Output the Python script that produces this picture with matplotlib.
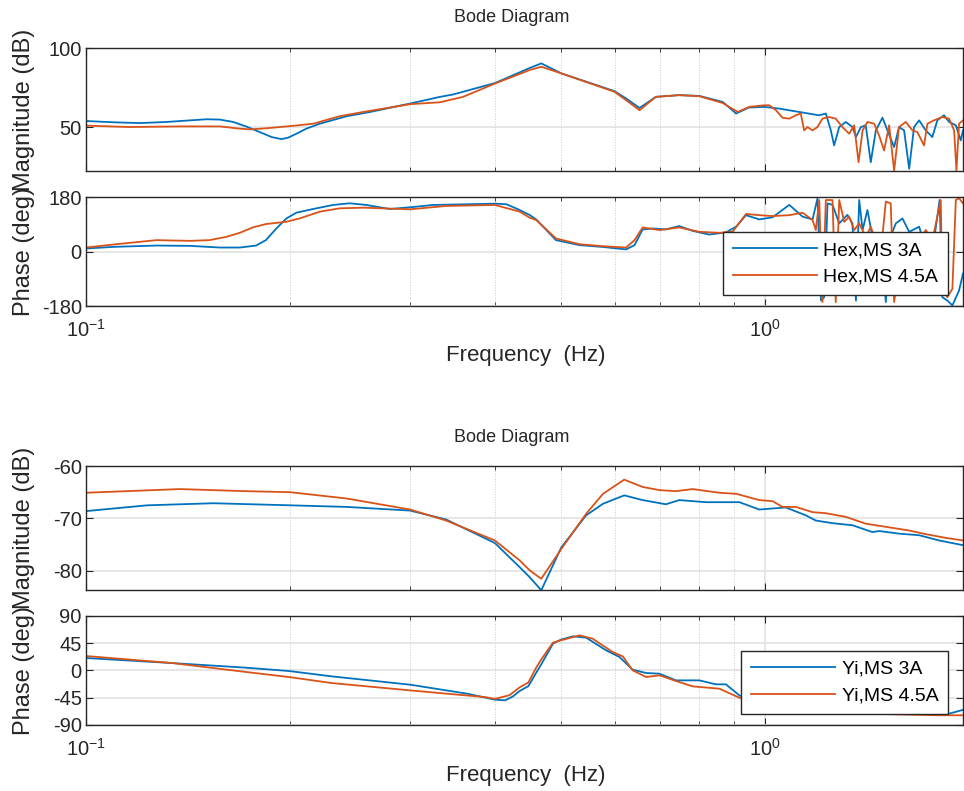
import math
import matplotlib
matplotlib.use('Agg')
import matplotlib.pyplot as plt
from matplotlib.ticker import FixedLocator, LogLocator, FuncFormatter, NullFormatter

plt.rcParams['font.family'] = ['Liberation Sans', 'DejaVu Sans']
plt.rcParams['mathtext.default'] = 'regular'
plt.rcParams['axes.unicode_minus'] = False

# ---- Hex 电机，幅值 (dB) ----
hex3_mag_f = [0.100, 0.1097, 0.120, 0.1314, 0.1422, 0.1505, 0.1574, 0.1647, 0.172, 0.1803, 0.1876, 0.194,
              0.1984, 0.2041, 0.2111, 0.2209, 0.242, 0.262, 0.300, 0.332, 0.347, 0.400, 0.450, 0.468,
              0.501, 0.600, 0.624, 0.653, 0.690, 0.747, 0.800, 0.866, 0.906, 0.946, 0.997, 1.049, 1.122,
              1.200, 1.228, 1.249, 1.263, 1.285, 1.314, 1.344, 1.360, 1.383, 1.406, 1.430, 1.455, 1.488,
              1.513, 1.548, 1.574, 1.601, 1.629, 1.656, 1.685, 1.723, 1.762, 1.792, 1.833, 1.865, 1.908,
              1.940, 1.955]
hex3_mag = [54.0, 53.2, 52.7, 53.4, 54.4, 55.1, 54.9, 53.4, 50.6, 47.0, 43.9, 42.6,
            43.5, 46.0, 49.2, 52.3, 57.0, 59.7, 65.0, 69.2, 70.7, 77.9, 87.4, 90.3,
            84.0, 72.8, 68.2, 62.2, 69.2, 70.3, 69.8, 66.0, 58.7, 62.5, 62.9, 61.8, 59.7,
            57.6, 58.7, 48.1, 38.6, 50.2, 53.4, 50.2, 43.9, 50.2, 51.3, 28.0, 48.1, 56.1,
            48.1, 37.6, 50.2, 48.1, 23.9, 50.2, 54.4, 48.1, 43.9, 54.4, 57.6, 53.4, 51.3,
            41.8, 48.1]

hex45_mag_f = [0.100, 0.116, 0.1375, 0.1574, 0.1666, 0.1743, 0.184, 0.200, 0.216, 0.2363, 0.256, 0.300,
               0.332, 0.3589, 0.400, 0.450, 0.468, 0.501, 0.600, 0.624, 0.653, 0.690, 0.747, 0.800, 0.865,
               0.911, 0.947, 0.997, 1.014, 1.037, 1.060, 1.085, 1.109, 1.128, 1.141, 1.154, 1.174, 1.194,
               1.214, 1.242, 1.270, 1.299, 1.329, 1.352, 1.372, 1.391, 1.414, 1.447, 1.471, 1.496, 1.522,
               1.548, 1.574, 1.610, 1.647, 1.675, 1.713, 1.733, 1.772, 1.823, 1.865, 1.897, 1.912, 1.929,
               1.955]
hex45_mag = [51.1, 50.2, 50.6, 50.6, 49.4, 48.7, 49.4, 50.8, 52.3, 57.0, 59.7, 64.6,
             65.8, 69.2, 77.6, 86.1, 88.2, 84.0, 72.4, 67.1, 60.8, 69.2, 70.3, 69.6, 65.4,
             59.7, 62.9, 63.9, 63.9, 60.8, 56.1, 55.5, 57.6, 58.7, 48.1, 50.2, 48.1, 50.2,
             55.5, 56.5, 55.5, 50.2, 46.0, 51.3, 28.0, 48.1, 53.4, 52.3, 44.9, 35.4, 51.3,
             22.8, 50.2, 53.4, 48.1, 47.0, 38.6, 52.3, 54.4, 56.5, 55.5, 48.1, 22.8, 52.3,
             54.4]

# ---- Hex 电机，相位 (deg) ----
hex3_ph_f = [0.100, 0.1097, 0.127, 0.1422, 0.1574, 0.1685, 0.178, 0.184, 0.1907, 0.1973, 0.2041, 0.216,
             0.2311, 0.2444, 0.2587, 0.280, 0.300, 0.3242, 0.400, 0.416, 0.435, 0.450, 0.460, 0.492,
             0.533, 0.577, 0.624, 0.642, 0.660, 0.683, 0.714, 0.747, 0.782, 0.827, 0.875, 0.906, 0.937,
             0.980, 1.025, 1.085, 1.135, 1.174, 1.194, 1.208, 1.221, 1.235, 1.256, 1.285, 1.321, 1.344,
             1.360, 1.375, 1.391, 1.414, 1.438, 1.480, 1.505, 1.522, 1.557, 1.592, 1.629, 1.685, 1.713,
             1.742, 1.772, 1.806, 1.823, 1.854, 1.886, 1.929, 1.955]
hex3_ph = [9.8, 15.3, 19.7, 18.6, 13.1, 13.1, 19.7, 37.5, 76.2, 109.4, 128.2, 140.4,
           153.7, 159.2, 153.7, 140.4, 146, 153.7, 158, 156, 137, 120.5, 106, 37.5,
           21, 15, 7, 21, 73, 76, 73, 84, 68, 56, 63, 82, 120,
           106, 113, 154, 115, 106, 176, -162, -151, 159, 154, 93, 121, 93,
           -162, 170, 71, 137, 48, 37, -167, 37, 93, 109, 65, 82, 26,
           -73, 37, 170, -151, -162, -178, -129, -73]

hex45_ph_f = [0.100, 0.1097, 0.127, 0.1422, 0.152, 0.161, 0.1685, 0.176, 0.184, 0.1973, 0.2064, 0.2209,
              0.2363, 0.256, 0.300, 0.339, 0.400, 0.435, 0.450, 0.460, 0.492, 0.533, 0.577, 0.624, 0.642,
              0.660, 0.699, 0.747, 0.800, 0.856, 0.895, 0.937, 0.980, 1.025, 1.085, 1.135, 1.174, 1.187,
              1.201, 1.214, 1.228, 1.256, 1.270, 1.285, 1.307, 1.329, 1.352, 1.375, 1.406, 1.430, 1.455,
              1.471, 1.488, 1.505, 1.530, 1.548, 1.592, 1.647, 1.685, 1.723, 1.762, 1.792, 1.813, 1.823,
              1.854, 1.886, 1.908, 1.929, 1.955]
hex45_ph = [13.1, 23.1, 37.5, 35.2, 37.5, 48.5, 61.8, 79.5, 90.6, 98.3, 109.4, 131.5,
            142.6, 144.8, 139.3, 150.4, 153.7, 131.5, 111.6, 104, 43, 24, 17.5, 13, 37.5,
            79.5, 70.7, 79.5, 65, 61.8, 65, 124, 120, 117, 120, 128, 104, 71,
            170, -167, 170, 170, -167, 170, 98, 115, 71, 93, 48, 81, 37,
            59, 54, 165, 159, -167, 37, 32, 37, 71, 37, 115, 170, -129,
            -151, -123, 170, 176, 159]

# ---- Yi 电机，幅值 (dB) ----
yi3_mag_f = [0.100, 0.123, 0.154, 0.200, 0.242, 0.300, 0.339, 0.400, 0.435, 0.450, 0.468, 0.501, 0.545,
             0.577, 0.620, 0.660, 0.714, 0.747, 0.818, 0.916, 0.980, 1.072, 1.147, 1.187, 1.256, 1.344,
             1.438, 1.471, 1.574, 1.685, 1.803, 1.955]
yi3_mag = [-68.6, -67.5, -67.1, -67.5, -67.8, -68.5, -70.2, -74.7, -79.3, -81.2, -83.7, -75.5, -69.4,
           -67.2, -65.6, -66.5, -67.3, -66.5, -66.9, -66.9, -68.3, -67.9, -69.4, -70.4, -70.9, -71.3,
           -72.6, -72.4, -72.9, -73.2, -74.2, -75.1]

yi45_mag_f = [0.100, 0.1375, 0.172, 0.200, 0.242, 0.300, 0.339, 0.400, 0.435, 0.450, 0.468, 0.501, 0.545,
              0.577, 0.620, 0.660, 0.699, 0.739, 0.782, 0.856, 0.906, 0.980, 1.025, 1.060, 1.109, 1.174,
              1.228, 1.314, 1.406, 1.505, 1.629, 1.723, 1.844, 1.955]
yi45_mag = [-65.1, -64.4, -64.8, -65.0, -66.2, -68.3, -70.4, -74.2, -78.0, -79.9, -81.5, -75.8, -69.1,
            -65.3, -62.6, -64.0, -64.6, -64.8, -64.4, -65.1, -65.3, -66.5, -66.7, -67.8, -67.8, -68.8,
            -69.0, -69.7, -71.0, -71.6, -72.3, -73.0, -73.7, -74.2]

# ---- Yi 电机，相位 (deg) ----
yi3_ph_f = [0.100, 0.134, 0.172, 0.199, 0.230, 0.300, 0.364, 0.400, 0.414, 0.425, 0.435, 0.448, 0.460,
            0.467, 0.487, 0.500, 0.521, 0.545, 0.583, 0.610, 0.638, 0.668, 0.699, 0.739, 0.800, 0.846,
            0.875, 0.916, 1.000, 1.200, 1.500, 1.800, 1.865, 1.955]
yi3_ph = [20.3, 12, 4.4, -1.1, -9.9, -23.6, -38.4, -48.3, -49.4, -43, -34, -26, -4,
          8.2, 44, 50.5, 56, 53.8, 33, 22, 1.1, -4.4, -5.5, -16.5, -16.5, -23,
          -23, -41.2, -55, -63, -68, -70, -71.4, -65]

yi45_ph_f = [0.100, 0.134, 0.172, 0.199, 0.230, 0.300, 0.349, 0.387, 0.400, 0.420, 0.435, 0.448, 0.460,
             0.467, 0.487, 0.500, 0.533, 0.557, 0.596, 0.617, 0.638, 0.668, 0.699, 0.739, 0.782, 0.856,
             0.916, 1.000, 1.200, 1.500, 1.800, 1.865, 1.955]
yi45_ph = [23.6, 12, -2.7, -11, -20.9, -33, -39.6, -44, -47, -41, -28, -20, 4.4,
           16.5, 45.6, 49.4, 57.7, 52.2, 30.2, 23, 0, -11, -8.2, -17.6, -26.4, -30.2,
           -45, -55, -65, -72, -74, -74, -74]

blue = '#0072BD'
red = '#D95319'
ink = '#262626'
W, H = 964, 791

fig = plt.figure(figsize=(W / 100, H / 100), dpi=100)


def make_ax(top_px, bot_px):
    left, right = 86, 963
    return fig.add_axes([left / W, 1 - bot_px / H, (right - left) / W, (bot_px - top_px) / H])


def style(ax, yticks, ylim, show_x):
    ax.set_xscale('log')
    ax.set_xlim(0.1, 1.955)
    ax.set_ylim(*ylim)
    ax.yaxis.set_major_locator(FixedLocator(yticks))
    ax.xaxis.set_major_locator(LogLocator(base=10, numticks=10))
    ax.xaxis.set_minor_locator(LogLocator(base=10, subs=range(2, 10), numticks=10))
    ax.xaxis.set_minor_formatter(NullFormatter())
    if show_x:
        ax.xaxis.set_major_formatter(FuncFormatter(lambda v, p: r'$10^{%d}$' % round(math.log10(v))))
    else:
        ax.xaxis.set_major_formatter(NullFormatter())
    ax.tick_params(which='both', direction='in', top=True, right=True, colors=ink,
                   labelsize=14.5, labelcolor=ink)
    ax.tick_params(which='major', length=5, width=0.8, pad=3)
    ax.tick_params(which='minor', length=3, width=0.6)
    ax.tick_params(axis='x', which='major', pad=9)
    ax.grid(True, which='major', color='#e2e2e2', lw=1.2)
    ax.grid(True, which='minor', axis='x', color='#c8c8c8', lw=0.7, ls=':')
    ax.set_axisbelow(True)
    for s in ax.spines.values():
        s.set_color(ink)
        s.set_linewidth(1.0)


panels = [
    (48, 171, hex3_mag_f, hex3_mag, hex45_mag_f, hex45_mag, [50, 100], (22.5, 100), False, 'Magnitude (dB)', None),
    (197, 306, hex3_ph_f, hex3_ph, hex45_ph_f, hex45_ph, [-180, 0, 180], (-180, 180), True, 'Phase (deg)',
     ['Hex,MS 3A', 'Hex,MS 4.5A']),
    (466, 589.5, yi3_mag_f, yi3_mag, yi45_mag_f, yi45_mag, [-80, -70, -60], (-83.55, -60), False, 'Magnitude (dB)', None),
    (615.7, 725, yi3_ph_f, yi3_ph, yi45_ph_f, yi45_ph, [-90, -45, 0, 45, 90], (-90, 90), True, 'Phase (deg)',
     ['Yi,MS 3A', 'Yi,MS 4.5A']),
]

for top, bot, f1, v1, f2, v2, yt, yl, showx, ylab, leg in panels:
    ax = make_ax(top, bot)
    ax.plot(f1, v1, color=blue, lw=1.3, label=leg[0] if leg else None)
    ax.plot(f2, v2, color=red, lw=1.3, label=leg[1] if leg else None)
    style(ax, yt, yl, showx)
    # 纵轴标签放在固定像素位置
    fig.text(24 / W, 1 - (top + bot) / 2 / H, ylab, rotation=90, ha='center', va='center',
             fontsize=17, color=ink)
    if leg:
        lg = ax.legend(loc='lower right', bbox_to_anchor=(0.983, 0.10), fontsize=14, frameon=True,
                       fancybox=False, framealpha=1, edgecolor=ink, handlelength=4.3,
                       handletextpad=0.35, borderpad=0.5, labelspacing=0.45, borderaxespad=0)
        lg.get_frame().set_linewidth(1.0)

# 标题和横轴标签
for ty, xy in [(18, 356), (437, 775)]:
    fig.text(512 / W, 1 - ty / H, 'Bode Diagram', ha='center', va='center', fontsize=13, color=ink)
    fig.text(526 / W, 1 - xy / H, 'Frequency  (Hz)', ha='center', va='center', fontsize=16, color=ink)

fig.savefig('out.png', dpi=100)
